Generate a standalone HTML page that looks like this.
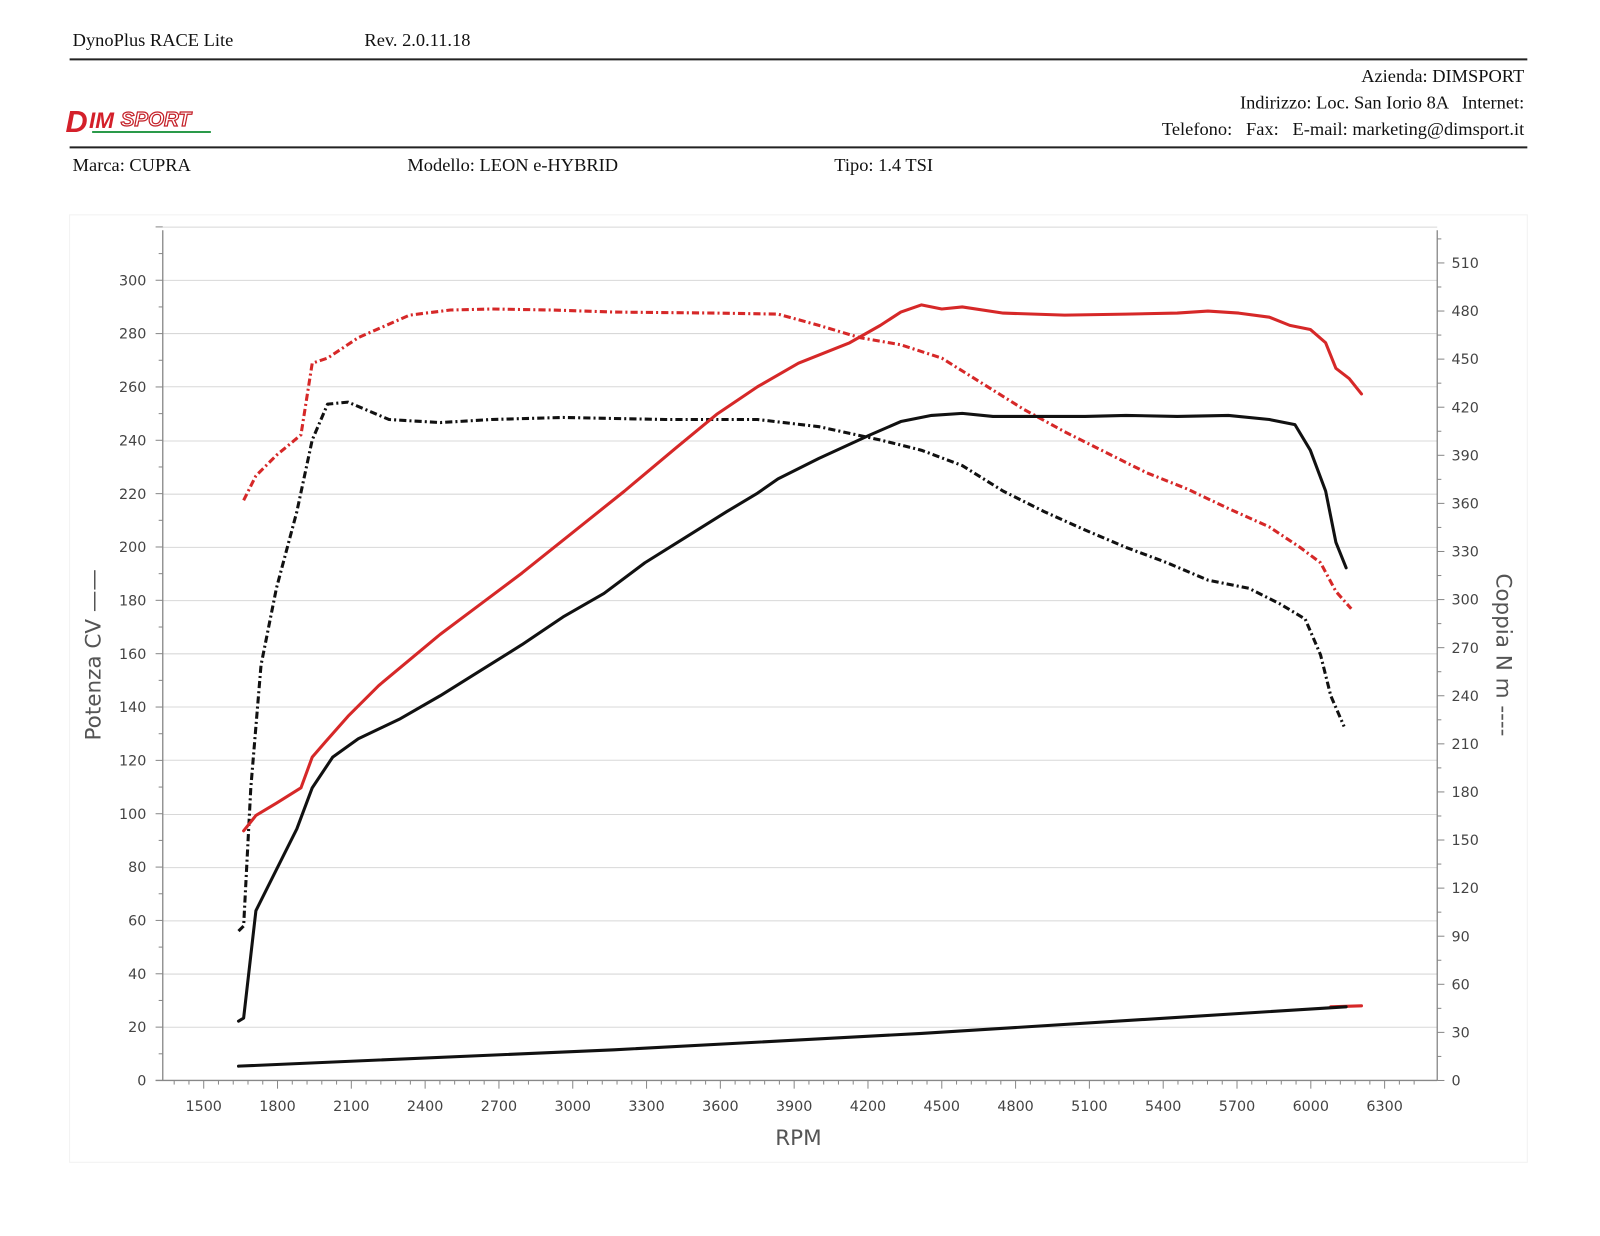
<!DOCTYPE html>
<html><head><meta charset="utf-8"><style>
html,body{margin:0;padding:0;background:#fff;}
svg{display:block;}
.s{font-family:"Liberation Serif",serif;font-size:18px;fill:#111;}
.t{font-family:"DejaVu Sans",sans-serif;font-size:14px;fill:#444;}
</style></head><body>
<svg width="1600" height="1236" viewBox="0 0 1563 1208" preserveAspectRatio="none" xmlns="http://www.w3.org/2000/svg">
<text class="s" x="71" y="45">DynoPlus RACE Lite</text>
<text class="s" x="356" y="45">Rev. 2.0.11.18</text>
<line x1="68" y1="58" x2="1492" y2="58" stroke="#222" stroke-width="2"/>
<text class="s" x="1489" y="80" text-anchor="end">Azienda: DIMSPORT</text>
<text class="s" x="1489" y="106" text-anchor="end">Indirizzo: Loc. San Iorio 8A &#160; Internet:</text>
<text class="s" x="1489" y="132" text-anchor="end">Telefono: &#160; Fax: &#160; E-mail: marketing@dimsport.it</text>
<line x1="68" y1="144" x2="1492" y2="144" stroke="#222" stroke-width="2"/>
<!-- logo -->
<g font-family="Liberation Sans,sans-serif" font-weight="bold" font-style="italic">
<text x="64" y="129" font-size="30" fill="#d4202a">D</text>
<text x="87" y="125" font-size="22" fill="#d4202a">IM</text>
<text x="118" y="123" font-size="20" fill="#fff" stroke="#c42028" stroke-width="1.2">SPORT</text>
<line x1="90" y1="129" x2="206" y2="129" stroke="#2a9a4a" stroke-width="2"/>
</g>
<text class="s" x="71" y="167">Marca: CUPRA</text>
<text class="s" x="398" y="167">Modello: LEON e-HYBRID</text>
<text class="s" x="815" y="167">Tipo: 1.4 TSI</text>
<rect x="68" y="210" width="1424" height="926" fill="none" stroke="#f2f2f2"/>
<!-- grid -->
<g stroke="#d8d8d8" stroke-width="1">
<line x1="159" y1="222" x2="1404" y2="222"/><line x1="159" y1="274" x2="1404" y2="274"/>
<line x1="159" y1="326" x2="1404" y2="326"/><line x1="159" y1="378" x2="1404" y2="378"/>
<line x1="159" y1="431" x2="1404" y2="431"/><line x1="159" y1="483" x2="1404" y2="483"/>
<line x1="159" y1="535" x2="1404" y2="535"/><line x1="159" y1="587" x2="1404" y2="587"/>
<line x1="159" y1="639" x2="1404" y2="639"/><line x1="159" y1="691" x2="1404" y2="691"/>
<line x1="159" y1="743" x2="1404" y2="743"/><line x1="159" y1="796" x2="1404" y2="796"/>
<line x1="159" y1="848" x2="1404" y2="848"/><line x1="159" y1="900" x2="1404" y2="900"/>
<line x1="159" y1="952" x2="1404" y2="952"/><line x1="159" y1="1004" x2="1404" y2="1004"/>
</g>
<g stroke="#888" stroke-width="1.3">
<line x1="159" y1="225" x2="159" y2="1056"/>
<line x1="1404" y1="225" x2="1404" y2="1056"/>
<line x1="152" y1="1056" x2="1404" y2="1056"/>
</g>
<g id="ticks" stroke="#888" stroke-width="1"></g>
<g class="t" id="labels"></g>
<text x="0" y="0" transform="translate(98,640) rotate(-90)" text-anchor="middle" font-family="DejaVu Sans,sans-serif" font-size="21" fill="#555">Potenza CV ——</text>
<text x="0" y="0" transform="translate(1462,640) rotate(90)" text-anchor="middle" font-family="DejaVu Sans,sans-serif" font-size="21" fill="#555">Coppia N m ----</text>
<text x="780" y="1119" text-anchor="middle" font-family="DejaVu Sans,sans-serif" font-size="21" fill="#555">RPM</text>
<!-- series -->
<g fill="none" stroke-width="3" stroke-linejoin="round">
<polyline stroke="#d62828" stroke-dasharray="7,3,2,3" points="238,489 250,465 270,445 294,425 305,355 320,350 350,330 400,308 440,303 480,302 540,303 600,305 700,306 760,307 800,318 840,330 880,337 920,350 960,375 1000,400 1040,422 1080,442 1120,462 1160,478 1200,497 1240,515 1270,535 1290,550 1305,578 1320,595"/>
<polyline stroke="#111" stroke-dasharray="7,3,2,3" points="233,910 238,905 245,770 255,650 270,575 290,500 305,430 320,395 340,393 380,410 430,413 480,410 550,408 650,410 740,410 800,417 860,430 900,440 940,455 980,480 1020,500 1060,518 1100,535 1140,550 1180,567 1220,575 1250,590 1275,605 1290,640 1300,680 1313,710"/>
</g>
<g fill="none" stroke-width="3" stroke-linejoin="round" stroke-linecap="round">
<polyline stroke="#d62828" points="238,812 250,797 270,785 294,770 305,740 318,725 340,700 370,670 400,645 430,620 470,590 510,560 560,520 610,480 660,438 700,405 740,378 780,355 830,335 860,318 880,305 900,298 920,302 940,300 980,306 1040,308 1100,307 1150,306 1180,304 1210,306 1240,310 1260,318 1280,322 1295,335 1305,360 1318,370 1330,385"/>
<polyline stroke="#111" points="233,998 238,995 250,890 270,850 290,810 305,770 325,740 350,722 390,703 430,680 470,655 510,630 550,603 590,580 630,550 670,525 710,500 740,482 760,468 800,448 850,425 880,412 910,406 940,404 970,407 1010,407 1060,407 1100,406 1150,407 1200,406 1240,410 1265,415 1280,440 1295,480 1305,530 1315,555"/>
<line x1="1300" y1="984" x2="1330" y2="983" stroke="#d62828"/>
<polyline stroke="#111" points="233,1042 600,1026 900,1010 1315,984"/>
</g>
<script>
var ns="http://www.w3.org/2000/svg",tk=document.getElementById('ticks'),lb=document.getElementById('labels');
function L(x1,y1,x2,y2){var l=document.createElementNS(ns,'line');l.setAttribute('x1',x1);l.setAttribute('y1',y1);l.setAttribute('x2',x2);l.setAttribute('y2',y2);tk.appendChild(l);}
function T(x,y,s,a){var t=document.createElementNS(ns,'text');t.setAttribute('x',x);t.setAttribute('y',y);t.setAttribute('text-anchor',a);t.textContent=s;lb.appendChild(t);}
for(var v=0;v<=320;v+=10){var y=1056-2.607*v;L(v%20?155:152,y,159,y);if(v%20==0&&v<=300)T(143,y+5,v,'end');}
for(var v=0;v<=525;v+=15){var y=1056-1.5667*v;L(1404,y,v%30?1408:1411,y);if(v%30==0&&v<=510)T(1418,y+5,v,'start');}
for(var r=1380;r<=6420;r+=60){var x=199+(r-1500)*72.1/300;if(x<160||x>1403)continue;var m=(r-1500)%300==0;L(x,1056,x,m?1064:1060);if(m)T(x,1086,r,'middle');}
</script>
</svg>
</body></html>
